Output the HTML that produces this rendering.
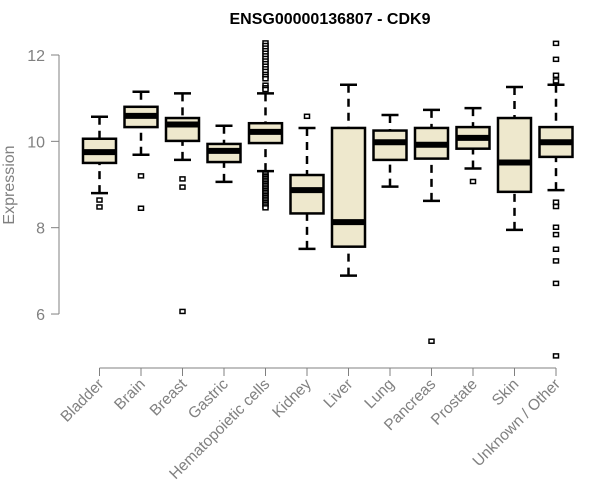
<!DOCTYPE html>
<html><head><meta charset="utf-8"><style>
body{margin:0;background:#fff}
svg{display:block;font-family:"Liberation Sans",sans-serif}
</style></head><body>
<svg id="chart" width="600" height="500">
<text x="330" y="24" text-anchor="middle" font-weight="bold" font-size="16">ENSG00000136807 - CDK9</text>
<text transform="translate(14,185) rotate(-90)" text-anchor="middle" font-size="16" fill="#808080">Expression</text>
<g id="axes"></g>
<g id="plot"></g>
</svg>
<script>
const categories=["Bladder","Brain","Breast","Gastric","Hematopoietic cells","Kidney","Liver","Lung","Pancreas","Prostate","Skin","Unknown / Other"];
const whiskerHigh=[10.57,11.15,11.11,10.36,11.11,10.31,11.31,10.61,10.73,10.77,11.26,11.31];
const q3=[10.06,10.80,10.54,9.94,10.42,9.22,10.31,10.25,10.31,10.33,10.54,10.33];
const medians=[9.75,10.59,10.39,9.78,10.22,8.87,8.13,9.98,9.92,10.08,9.51,9.98];
const q1=[9.50,10.33,10.01,9.52,9.96,8.33,7.56,9.57,9.60,9.83,8.83,9.64];
const whiskerLow=[8.80,9.69,9.57,9.06,9.31,7.51,6.89,8.95,8.62,9.37,7.95,8.87];
const outliers=[[8.64,8.48],[9.20,8.45],[9.13,8.94,6.06],[],
[12.28,12.22,12.16,12.10,12.04,11.98,11.92,11.86,11.80,11.74,11.68,11.62,11.55,11.50,11.45,11.30,11.24,11.20,
 9.26,9.22,9.18,9.14,9.10,9.06,9.02,8.98,8.94,8.90,8.86,8.82,8.78,8.74,8.70,8.66,8.62,8.58,8.54,8.50,8.46],
[10.58],[],[],[5.37],[9.07],[],
[12.27,11.90,11.53,11.40,8.59,8.49,8.01,7.84,7.50,7.23,6.71,5.03]];
const yTicks=[6,8,10,12];

const NS="http://www.w3.org/2000/svg";
const yS=v=>55+(12-v)*43.17;
const xS=i=>99.5+41.5*i;
function mk(tag,attrs,parent){const e=document.createElementNS(NS,tag);for(const k in attrs)e.setAttribute(k,attrs[k]);parent.appendChild(e);return e;}
const axes=document.getElementById('axes'),plot=document.getElementById('plot');

let yl=mk('line',{x1:59,x2:59,y1:yS(12),y2:yS(6),stroke:'#808080','stroke-width':1},axes);


yTicks.forEach(t=>{
  let tk=mk('line',{x1:51,x2:59,y1:yS(t),y2:yS(t),stroke:'#808080'},axes);
  
  
  let tx=mk('text',{x:45,y:yS(t)+6,'text-anchor':'end','font-size':16,fill:'#808080'},axes);
  tx.textContent=t;
  
  
});
let xl=mk('line',{x1:xS(0),x2:xS(categories.length-1),y1:368,y2:368,stroke:'#808080'},axes);


categories.forEach((c,i)=>{
  const x=xS(i);
  let tk=mk('line',{x1:x,x2:x,y1:368,y2:376,stroke:'#808080'},axes);
  
  
  let tx=mk('text',{transform:`translate(${x+5},385) rotate(-45)`,'text-anchor':'end','font-size':15.5,fill:'#808080'},axes);
  tx.textContent=c;
  
  

  const g=mk('g',{},plot);
  
  
  mk('line',{x1:x,x2:x,y1:yS(whiskerHigh[i]),y2:yS(q3[i]),stroke:'#000','stroke-width':2.5,'stroke-dasharray':'8,6'},g);
  mk('line',{x1:x,x2:x,y1:yS(whiskerLow[i]),y2:yS(q1[i]),stroke:'#000','stroke-width':2.5,'stroke-dasharray':'8,6'},g);
  mk('line',{x1:x-8.5,x2:x+8.5,y1:yS(whiskerHigh[i]),y2:yS(whiskerHigh[i]),stroke:'#000','stroke-width':2.5},g);
  mk('line',{x1:x-8.5,x2:x+8.5,y1:yS(whiskerLow[i]),y2:yS(whiskerLow[i]),stroke:'#000','stroke-width':2.5},g);
  mk('rect',{x:x-16.5,y:yS(q3[i]),width:33,height:yS(q1[i])-yS(q3[i]),fill:'#EEE8CD',stroke:'#000','stroke-width':2.5},g);
  mk('line',{x1:x-16.5,x2:x+16.5,y1:yS(medians[i]),y2:yS(medians[i]),stroke:'#000','stroke-width':6},g);
  outliers[i].forEach(v=>{
    mk('rect',{x:x-2.5,y:yS(v)-2,width:5,height:4,fill:'#fff',stroke:'#000','stroke-width':1.5},g);
  });
});
</script>
</body></html>
